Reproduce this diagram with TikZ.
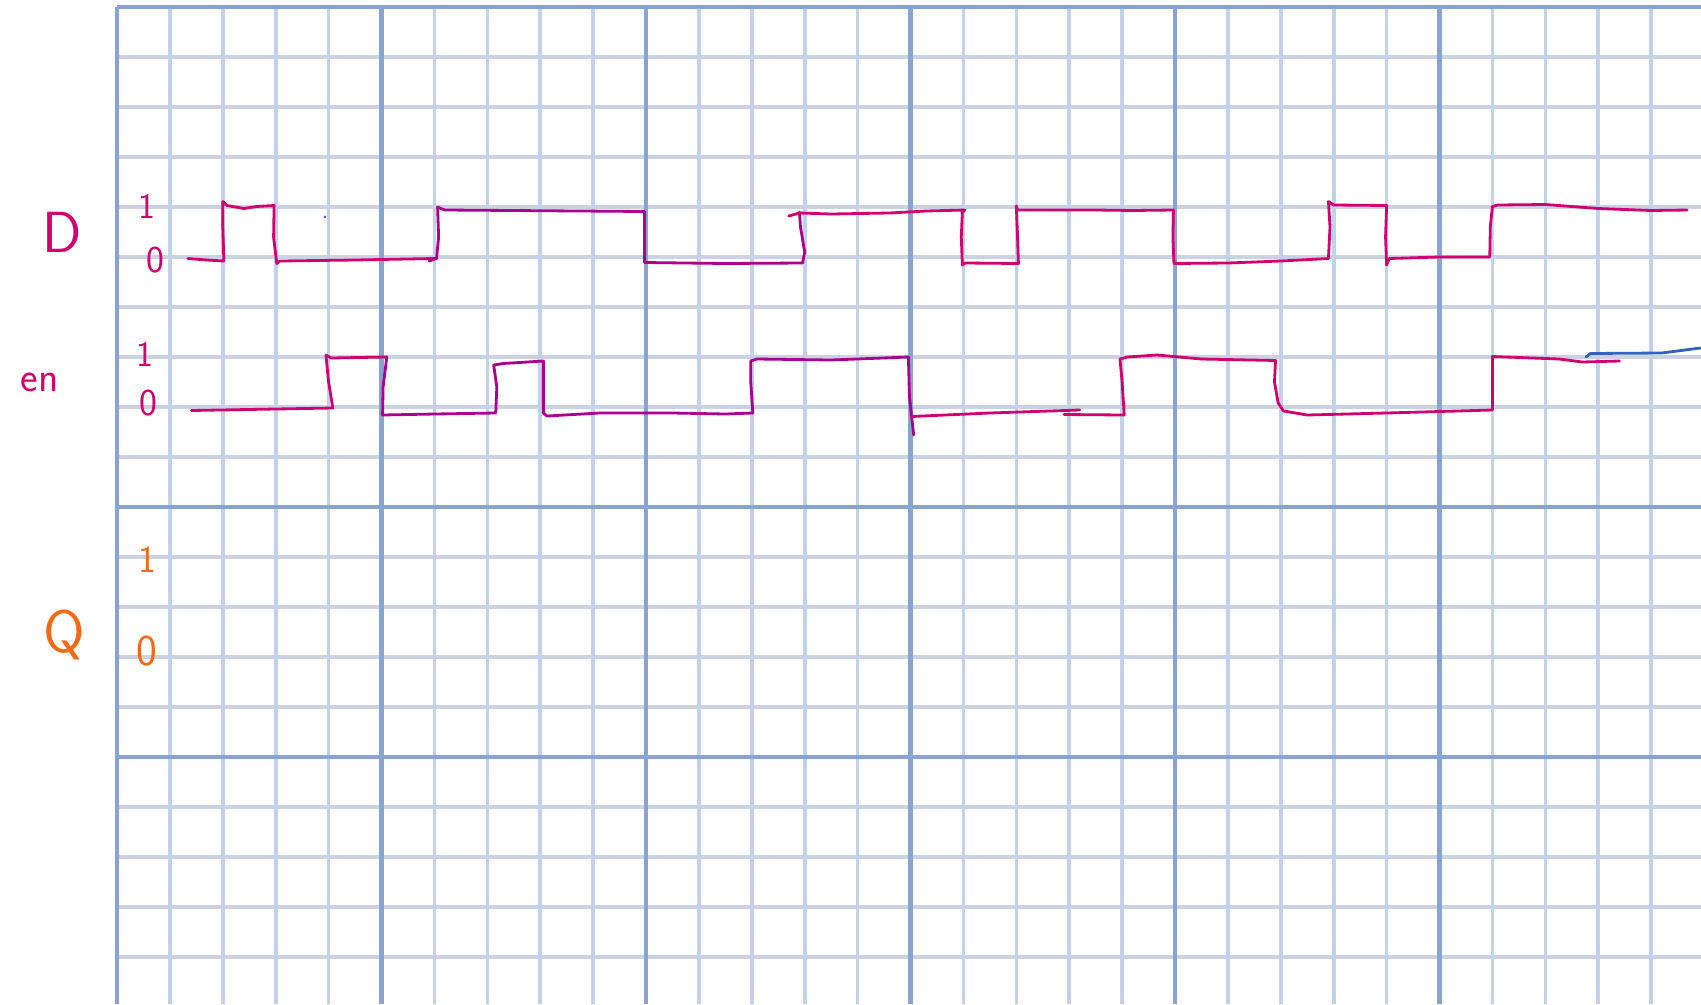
\documentclass[tikz,border=0pt]{standalone}
\usepackage{tikz}
\definecolor{myinkpink1}{RGB}{210, 0, 112}
\definecolor{myinkpurple1}{RGB}{172, 0, 142}
\definecolor{myinkorange1}{RGB}{245, 105, 20}
\definecolor{myinkblue1}{RGB}{50, 100, 190}
\definecolor{mygridlight1}{RGB}{194, 210, 236}
\definecolor{mygridgrey1}{RGB}{203, 210, 228}
\definecolor{mygriddark1}{RGB}{136, 164, 208}
\tikzset{
  minorv/.style={mygridlight1, line width=3.6pt},
  minorh/.style={mygridgrey1, line width=3.4pt},
  majorline/.style={mygriddark1, line width=4.4pt},
  wave/.style={line width=2.8pt, line join=round, line cap=round},
  hand/.style={inner sep=0, outer sep=0, font=\sffamily\fontsize{#1}{#1}\selectfont},
}

\begin{document}
\begin{tikzpicture}[x=52.9pt, y=50pt]
\useasboundingbox (-2.2117,0.14) rectangle (29.943,-19.94);
\fill[white] (-2.2117,0.14) rectangle (29.943,-19.94);

% --- Graph paper ---
\foreach \j in {1,...,19} \draw[minorh] (0,-\j) -- (29.943,-\j);
\foreach \i in {1,...,29} \draw[minorv] (\i,0) -- (\i,-19.94);
\foreach \j in {0,10,15} \draw[majorline] (0,-\j) -- (29.943,-\j);
\foreach \i in {0,5,...,25} \draw[majorline] (\i,0) -- (\i,-19.94);

% --- Labels ---
\node [hand=58, text=myinkpink1] (dname) at (-1.04,-4.5) {D};
\node [hand=36, text=myinkpink1] (dhigh) at (0.57,-3.98) {1};
\node [hand=38, text=myinkpink1] (dlow) at (0.72,-5.06) {0};
\node [hand=42, text=myinkpink1] (enname) at (-1.46,-7.5) {en};
\node [hand=36, text=myinkpink1] (enhigh) at (0.53,-6.94) {1};
\node [hand=38, text=myinkpink1] (enlow) at (0.6,-7.92) {0};
\node [hand=60, text=myinkorange1] (qname) at (-1.0,-12.55) {Q};
\node [hand=38, text=myinkorange1] (qhigh) at (0.57,-11.06) {1};
\node [hand=44, text=myinkorange1] (qlow) at (0.57,-12.88) {0};

% --- Signal D ---
\draw[wave, myinkpink1] (1.34,-5.03) -- (1.7,-5.06) -- (2.02,-5.08) -- (2.0,-4.4) -- (2.0,-3.89) -- (2.08,-3.97) -- (2.4,-4.03) -- (2.64,-3.99) -- (2.97,-3.97) -- (2.96,-4.6) -- (3.02,-5.13) -- (3.08,-5.08) -- (4.5,-5.06) -- (5.98,-5.03) -- (6.04,-5.03);
\draw[wave, myinkpurple1] (5.9,-5.08) -- (6.04,-5.03) -- (6.08,-4.6) -- (6.06,-4.0) -- (6.12,-4.03) -- (6.2,-4.06) -- (9.97,-4.09) -- (9.97,-5.11) -- (11.5,-5.13) -- (12.96,-5.12) -- (13.0,-4.9) -- (12.92,-4.4) -- (12.9,-4.1);
\draw[wave, myinkpink1] (12.7,-4.18) -- (12.9,-4.12) -- (13.5,-4.14) -- (14.6,-4.12) -- (15.3,-4.08) -- (16.03,-4.06) -- (15.98,-4.1) -- (15.96,-4.6) -- (15.98,-5.16) -- (16.03,-5.12) -- (17.04,-5.13) -- (17.02,-4.5) -- (17.0,-3.98) -- (17.02,-4.06) -- (18.5,-4.06) -- (19.2,-4.07) -- (19.97,-4.06) -- (19.96,-4.6) -- (19.98,-5.13) -- (21.0,-5.12) -- (22.0,-5.08) -- (22.9,-5.03) -- (22.93,-4.4) -- (22.9,-3.89) -- (23.0,-3.96) -- (24.0,-3.97) -- (23.98,-4.6) -- (24.0,-5.16) -- (24.05,-5.03) -- (25.0,-5.0) -- (25.95,-5.0) -- (25.96,-4.4) -- (26.0,-3.99) -- (26.1,-3.96) -- (27.0,-3.95) -- (28.0,-4.03) -- (29.0,-4.07) -- (29.68,-4.06);
\fill[myinkblue1] (3.93,-4.2) circle (1.5pt);

% --- Signal en ---
\draw[wave, myinkpink1] (1.41,-8.07) -- (3.0,-8.04) -- (4.08,-8.02) -- (4.0,-7.5) -- (3.95,-6.96) -- (4.05,-7.02) -- (5.1,-7.0);
\draw[wave, myinkpurple1] (5.1,-7.0) -- (5.03,-7.6) -- (5.02,-8.16) -- (6.0,-8.14) -- (7.16,-8.12) -- (7.18,-7.6) -- (7.12,-7.16) -- (7.3,-7.13) -- (8.06,-7.08) -- (8.06,-8.12) -- (8.13,-8.18) -- (9.13,-8.12) -- (10.5,-8.12) -- (11.5,-8.14) -- (12.02,-8.12) -- (11.98,-7.5) -- (11.98,-7.08) -- (12.1,-7.04) -- (13.5,-7.06) -- (14.96,-7.0) -- (14.98,-7.8) -- (15.06,-8.56);
\draw[wave, myinkpink1] (15.02,-8.19) -- (16.5,-8.12) -- (18.2,-8.06);
\draw[wave, myinkpink1] (17.9,-8.15) -- (19.04,-8.16) -- (19.0,-7.5) -- (18.96,-7.04) -- (19.1,-7.0) -- (19.66,-6.96) -- (20.5,-7.04) -- (21.9,-7.07) -- (21.88,-7.5) -- (21.95,-7.92) -- (22.05,-8.08) -- (22.5,-8.16) -- (24.0,-8.12) -- (26.0,-8.06) -- (26.0,-7.5) -- (26.0,-6.99) -- (27.26,-7.04) -- (27.7,-7.1) -- (28.4,-7.08);
\draw[wave, myinkblue1] (27.77,-7.0) -- (27.85,-6.93) -- (29.2,-6.92) -- (29.93,-6.82);
\end{tikzpicture}
\end{document}
